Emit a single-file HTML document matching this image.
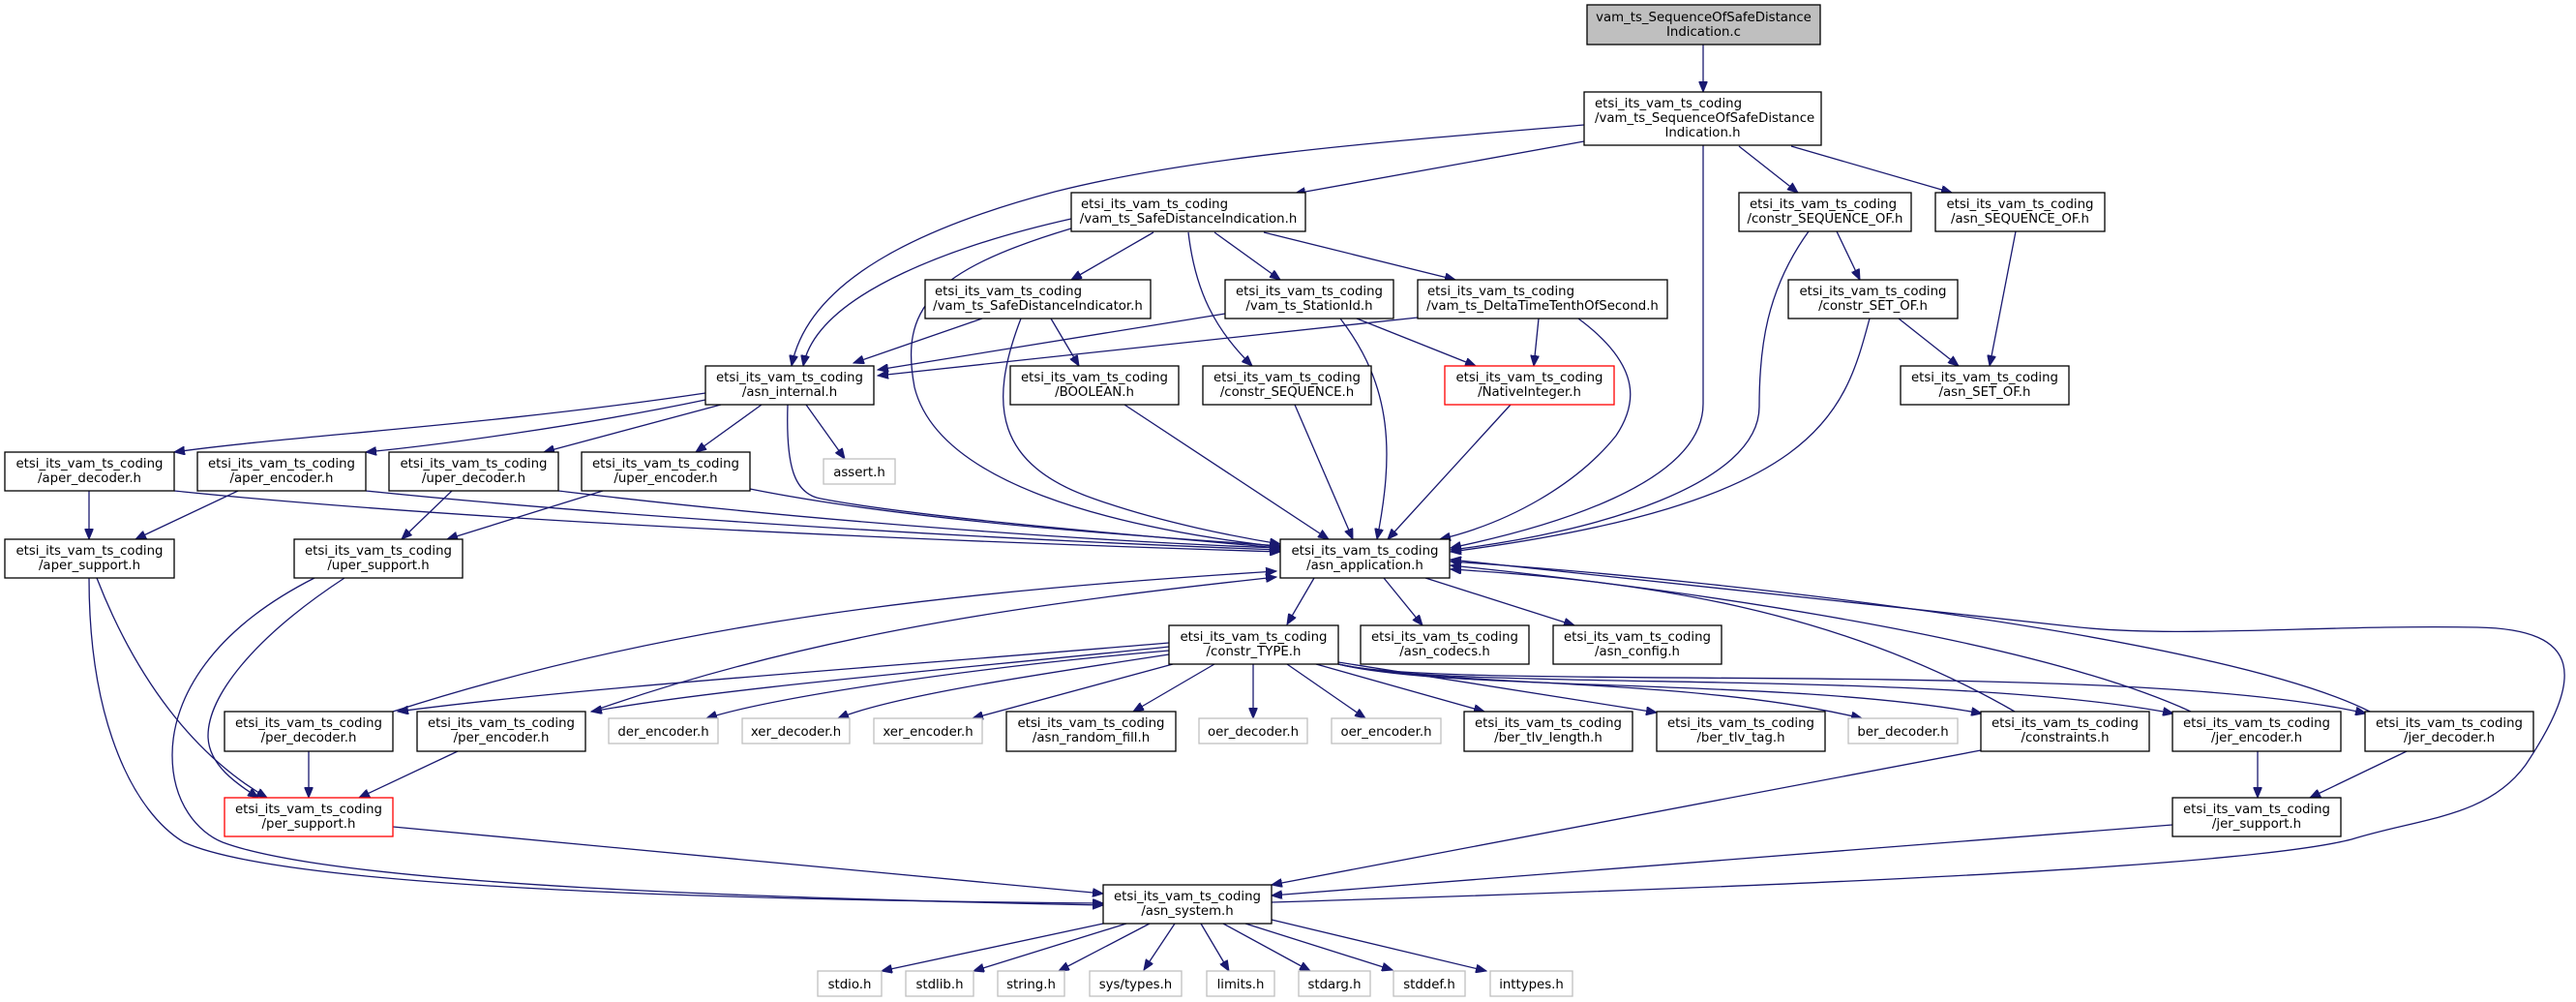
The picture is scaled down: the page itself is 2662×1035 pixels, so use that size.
<!DOCTYPE html>
<html><head><meta charset="utf-8"><style>
html,body{margin:0;padding:0;background:#fff;}
svg{display:block;}
text{font-family:"DejaVu Sans","Liberation Sans",sans-serif;font-size:13.3px;fill:#000;}
.n{fill:#fff;stroke:#000;stroke-width:1.3;}
.g{fill:#fff;stroke:#bfbfbf;stroke-width:1.3;}
.r{fill:#fff;stroke:#ff0000;stroke-width:1.3;}
.m{fill:#bfbfbf;stroke:#000;stroke-width:1.3;}
.e path{fill:none;stroke:#191970;stroke-width:1.3;marker-end:url(#a);}
</style></head><body>
<svg width="2662" height="1035" viewBox="0 0 2662 1035" xmlns="http://www.w3.org/2000/svg">
<defs><marker id="a" markerUnits="userSpaceOnUse" markerWidth="12" markerHeight="9" refX="11" refY="4.5" orient="auto"><path d="M0,0 L11,4.5 L0,9 z" fill="#191970" stroke="#191970"/></marker></defs>
<g class="e">
<path d="M1760,46 L1760,95"/>
<path d="M1637,146 L1338,200"/>
<path d="M1637,129 C1450,145 1240,160 1090,198 C950,235 835,290 818,378"/>
<path d="M1797,151 L1858,199"/>
<path d="M1851,151 L2017,199"/>
<path d="M1760,150 L1760,417 C1760,500 1600,545 1499,566"/>
<path d="M1107,226 C1000,250 845,300 830,378"/>
<path d="M1107,236 C960,280 930,320 945,400 C970,500 1150,545 1323,565"/>
<path d="M1192,240 L1107,289"/>
<path d="M1255,240 L1323,289"/>
<path d="M1228,240 C1235,300 1255,340 1294,378"/>
<path d="M1306,240 L1504,289"/>
<path d="M1015,329 L882,375"/>
<path d="M1086,329 L1115,378"/>
<path d="M1055,329 C1020,420 1030,480 1130,515 C1200,540 1280,555 1323,562"/>
<path d="M1266,324 L907,382"/>
<path d="M1465,328 L907,388"/>
<path d="M1402,329 L1525,378"/>
<path d="M1590,329 L1585,378"/>
<path d="M1385,329 C1440,400 1440,470 1423,557"/>
<path d="M1631,329 C1700,380 1690,420 1670,450 C1630,500 1560,540 1488,557"/>
<path d="M1561,418 L1434,557"/>
<path d="M1338,418 L1398,557"/>
<path d="M1162,418 L1373,557"/>
<path d="M1869,239 C1825,300 1818,360 1818,420 C1818,500 1650,550 1499,568"/>
<path d="M1898,239 L1922,289"/>
<path d="M1962,329 L2024,378"/>
<path d="M2083,239 L2056,378"/>
<path d="M1932,329 C1905,430 1880,520 1499,570"/>
<path d="M729,406 C500,440 300,450 180,467"/>
<path d="M729,413 C600,440 450,460 378,467"/>
<path d="M745,418 L562,467"/>
<path d="M787,418 L719,467"/>
<path d="M833,418 L873,474"/>
<path d="M814,418 C812,480 820,510 848,515 C950,535 1200,555 1323,566"/>
<path d="M92,507 L92,557"/>
<path d="M180,507 C500,540 1000,560 1323,570"/>
<path d="M246,507 L140,557"/>
<path d="M378,507 C700,540 1100,560 1323,568"/>
<path d="M467,507 L415,557"/>
<path d="M577,507 C850,540 1150,560 1323,566"/>
<path d="M623,507 L462,557"/>
<path d="M775,505 C950,540 1200,555 1323,564"/>
<path d="M100,597 C140,700 200,780 276,824"/>
<path d="M92,597 C92,750 140,840 190,870 C300,920 800,930 1140,933"/>
<path d="M356,597 C260,660 215,720 215,760 C215,790 245,810 267,824"/>
<path d="M325,597 C220,650 178,720 178,780 C178,830 205,860 230,870 C350,915 800,928 1140,935"/>
<path d="M319,776 L319,824"/>
<path d="M473,776 L371,824"/>
<path d="M406,735 C700,640 1000,610 1319,590"/>
<path d="M611,735 C850,650 1100,620 1319,596"/>
<path d="M1208,664 C900,690 600,710 411,735"/>
<path d="M1208,668 C1000,690 750,710 611,735"/>
<path d="M1208,672 C1000,690 800,720 730,742"/>
<path d="M1208,676 C1050,700 920,720 866,742"/>
<path d="M1212,686 L1005,742"/>
<path d="M1255,686 L1171,735"/>
<path d="M1295,686 L1295,742"/>
<path d="M1330,686 L1411,742"/>
<path d="M1360,686 L1534,735"/>
<path d="M1383,684 L1712,736"/>
<path d="M1383,686 C1500,710 1750,700 1924,742"/>
<path d="M1383,686 C1500,715 1850,700 2048,737"/>
<path d="M1383,686 C1500,715 2000,690 2246,737"/>
<path d="M1383,686 C1500,715 2200,680 2445,737"/>
<path d="M1358,597 L1330,645"/>
<path d="M1430,597 L1470,646"/>
<path d="M1473,597 L1627,646"/>
<path d="M2082,735 C1900,630 1700,600 1499,588"/>
<path d="M2264,735 C2100,660 1750,610 1499,584"/>
<path d="M2449,735 C2300,660 1800,600 1499,580"/>
<path d="M1314,932 C1700,920 2300,900 2430,867 C2500,845 2570,845 2610,790 C2670,700 2670,650 2560,648 C2400,645 2250,660 2140,647 C1900,620 1600,590 1499,578"/>
<path d="M2047,775 L1314,914"/>
<path d="M2333,776 L2333,824"/>
<path d="M2487,776 L2387,824"/>
<path d="M2245,852 L1314,925"/>
<path d="M406,854 L1140,923"/>
<path d="M1140,954 L911,1003"/>
<path d="M1164,954 L1006,1003"/>
<path d="M1188,954 L1094,1003"/>
<path d="M1214,954 L1182,1002"/>
<path d="M1241,954 L1270,1003"/>
<path d="M1264,954 L1354,1003"/>
<path d="M1287,954 L1439,1002"/>
<path d="M1314,950 L1536,1003"/>
</g>
<g>
<rect class="m" x="1640" y="5" width="241" height="41"/><text x="1760.5" y="22" text-anchor="middle">vam_ts_SequenceOfSafeDistance</text><text x="1760.5" y="37" text-anchor="middle">Indication.c</text>
<rect class="n" x="1637" y="95" width="245" height="55"/><text x="1648" y="111">etsi_its_vam_ts_coding</text><text x="1648" y="126">/vam_ts_SequenceOfSafeDistance</text><text x="1759.5" y="141" text-anchor="middle">Indication.h</text>
<rect class="n" x="1107" y="199" width="242" height="40"/><text x="1117" y="215">etsi_its_vam_ts_coding</text><text x="1228" y="230" text-anchor="middle">/vam_ts_SafeDistanceIndication.h</text>
<rect class="n" x="956" y="289" width="233" height="40"/><text x="966" y="305">etsi_its_vam_ts_coding</text><text x="1072.5" y="320" text-anchor="middle">/vam_ts_SafeDistanceIndicator.h</text>
<rect class="n" x="1266" y="289" width="174" height="40"/><text x="1353" y="305" text-anchor="middle">etsi_its_vam_ts_coding</text><text x="1353" y="320" text-anchor="middle">/vam_ts_StationId.h</text>
<rect class="n" x="1465" y="289" width="258" height="40"/><text x="1475" y="305">etsi_its_vam_ts_coding</text><text x="1594" y="320" text-anchor="middle">/vam_ts_DeltaTimeTenthOfSecond.h</text>
<rect class="n" x="1797" y="199" width="178" height="40"/><text x="1808" y="215">etsi_its_vam_ts_coding</text><text x="1886" y="230" text-anchor="middle">/constr_SEQUENCE_OF.h</text>
<rect class="n" x="2000" y="199" width="175" height="40"/><text x="2087.5" y="215" text-anchor="middle">etsi_its_vam_ts_coding</text><text x="2087.5" y="230" text-anchor="middle">/asn_SEQUENCE_OF.h</text>
<rect class="n" x="729" y="378" width="174" height="40"/><text x="816" y="394" text-anchor="middle">etsi_its_vam_ts_coding</text><text x="816" y="409" text-anchor="middle">/asn_internal.h</text>
<rect class="n" x="1044" y="378" width="174" height="40"/><text x="1131" y="394" text-anchor="middle">etsi_its_vam_ts_coding</text><text x="1131" y="409" text-anchor="middle">/BOOLEAN.h</text>
<rect class="n" x="1243" y="378" width="174" height="40"/><text x="1330" y="394" text-anchor="middle">etsi_its_vam_ts_coding</text><text x="1330" y="409" text-anchor="middle">/constr_SEQUENCE.h</text>
<rect class="r" x="1493" y="378" width="175" height="40"/><text x="1580.5" y="394" text-anchor="middle">etsi_its_vam_ts_coding</text><text x="1580.5" y="409" text-anchor="middle">/NativeInteger.h</text>
<rect class="n" x="1848" y="289" width="175" height="40"/><text x="1935.5" y="305" text-anchor="middle">etsi_its_vam_ts_coding</text><text x="1935.5" y="320" text-anchor="middle">/constr_SET_OF.h</text>
<rect class="n" x="1964" y="378" width="174" height="40"/><text x="2051" y="394" text-anchor="middle">etsi_its_vam_ts_coding</text><text x="2051" y="409" text-anchor="middle">/asn_SET_OF.h</text>
<rect class="n" x="5" y="467" width="175" height="40"/><text x="92.5" y="483" text-anchor="middle">etsi_its_vam_ts_coding</text><text x="92.5" y="498" text-anchor="middle">/aper_decoder.h</text>
<rect class="n" x="204" y="467" width="174" height="40"/><text x="291" y="483" text-anchor="middle">etsi_its_vam_ts_coding</text><text x="291" y="498" text-anchor="middle">/aper_encoder.h</text>
<rect class="n" x="402" y="467" width="175" height="40"/><text x="489.5" y="483" text-anchor="middle">etsi_its_vam_ts_coding</text><text x="489.5" y="498" text-anchor="middle">/uper_decoder.h</text>
<rect class="n" x="601" y="467" width="174" height="40"/><text x="688" y="483" text-anchor="middle">etsi_its_vam_ts_coding</text><text x="688" y="498" text-anchor="middle">/uper_encoder.h</text>
<rect class="g" x="851" y="474" width="74" height="26"/><text x="888" y="492" text-anchor="middle">assert.h</text>
<rect class="n" x="5" y="557" width="175" height="40"/><text x="92.5" y="573" text-anchor="middle">etsi_its_vam_ts_coding</text><text x="92.5" y="588" text-anchor="middle">/aper_support.h</text>
<rect class="n" x="304" y="557" width="174" height="40"/><text x="391" y="573" text-anchor="middle">etsi_its_vam_ts_coding</text><text x="391" y="588" text-anchor="middle">/uper_support.h</text>
<rect class="n" x="1323" y="557" width="175" height="40"/><text x="1410.5" y="573" text-anchor="middle">etsi_its_vam_ts_coding</text><text x="1410.5" y="588" text-anchor="middle">/asn_application.h</text>
<rect class="n" x="1208" y="646" width="175" height="40"/><text x="1295.5" y="662" text-anchor="middle">etsi_its_vam_ts_coding</text><text x="1295.5" y="677" text-anchor="middle">/constr_TYPE.h</text>
<rect class="n" x="1406" y="646" width="174" height="40"/><text x="1493" y="662" text-anchor="middle">etsi_its_vam_ts_coding</text><text x="1493" y="677" text-anchor="middle">/asn_codecs.h</text>
<rect class="n" x="1605" y="646" width="174" height="40"/><text x="1692" y="662" text-anchor="middle">etsi_its_vam_ts_coding</text><text x="1692" y="677" text-anchor="middle">/asn_config.h</text>
<rect class="n" x="232" y="735" width="174" height="41"/><text x="319" y="751" text-anchor="middle">etsi_its_vam_ts_coding</text><text x="319" y="766" text-anchor="middle">/per_decoder.h</text>
<rect class="n" x="431" y="735" width="174" height="41"/><text x="518" y="751" text-anchor="middle">etsi_its_vam_ts_coding</text><text x="518" y="766" text-anchor="middle">/per_encoder.h</text>
<rect class="g" x="629" y="742" width="113" height="26"/><text x="685.5" y="760" text-anchor="middle">der_encoder.h</text>
<rect class="g" x="767" y="742" width="111" height="26"/><text x="822.5" y="760" text-anchor="middle">xer_decoder.h</text>
<rect class="g" x="903" y="742" width="112" height="26"/><text x="959" y="760" text-anchor="middle">xer_encoder.h</text>
<rect class="n" x="1040" y="735" width="175" height="41"/><text x="1127.5" y="751" text-anchor="middle">etsi_its_vam_ts_coding</text><text x="1127.5" y="766" text-anchor="middle">/asn_random_fill.h</text>
<rect class="g" x="1239" y="742" width="112" height="26"/><text x="1295" y="760" text-anchor="middle">oer_decoder.h</text>
<rect class="g" x="1376" y="742" width="113" height="26"/><text x="1432.5" y="760" text-anchor="middle">oer_encoder.h</text>
<rect class="n" x="1513" y="735" width="174" height="41"/><text x="1600" y="751" text-anchor="middle">etsi_its_vam_ts_coding</text><text x="1600" y="766" text-anchor="middle">/ber_tlv_length.h</text>
<rect class="n" x="1712" y="735" width="174" height="41"/><text x="1799" y="751" text-anchor="middle">etsi_its_vam_ts_coding</text><text x="1799" y="766" text-anchor="middle">/ber_tlv_tag.h</text>
<rect class="g" x="1910" y="742" width="113" height="26"/><text x="1966.5" y="760" text-anchor="middle">ber_decoder.h</text>
<rect class="n" x="2047" y="735" width="174" height="41"/><text x="2134" y="751" text-anchor="middle">etsi_its_vam_ts_coding</text><text x="2134" y="766" text-anchor="middle">/constraints.h</text>
<rect class="n" x="2245" y="735" width="174" height="41"/><text x="2332" y="751" text-anchor="middle">etsi_its_vam_ts_coding</text><text x="2332" y="766" text-anchor="middle">/jer_encoder.h</text>
<rect class="n" x="2444" y="735" width="174" height="41"/><text x="2531" y="751" text-anchor="middle">etsi_its_vam_ts_coding</text><text x="2531" y="766" text-anchor="middle">/jer_decoder.h</text>
<rect class="r" x="232" y="824" width="174" height="40"/><text x="319" y="840" text-anchor="middle">etsi_its_vam_ts_coding</text><text x="319" y="855" text-anchor="middle">/per_support.h</text>
<rect class="n" x="2245" y="824" width="174" height="40"/><text x="2332" y="840" text-anchor="middle">etsi_its_vam_ts_coding</text><text x="2332" y="855" text-anchor="middle">/jer_support.h</text>
<rect class="n" x="1140" y="914" width="174" height="40"/><text x="1227" y="930" text-anchor="middle">etsi_its_vam_ts_coding</text><text x="1227" y="945" text-anchor="middle">/asn_system.h</text>
<rect class="g" x="845" y="1003" width="66" height="26"/><text x="878" y="1021" text-anchor="middle">stdio.h</text>
<rect class="g" x="936" y="1003" width="70" height="26"/><text x="971" y="1021" text-anchor="middle">stdlib.h</text>
<rect class="g" x="1031" y="1003" width="69" height="26"/><text x="1065.5" y="1021" text-anchor="middle">string.h</text>
<rect class="g" x="1126" y="1003" width="95" height="26"/><text x="1173.5" y="1021" text-anchor="middle">sys/types.h</text>
<rect class="g" x="1247" y="1003" width="70" height="26"/><text x="1282" y="1021" text-anchor="middle">limits.h</text>
<rect class="g" x="1342" y="1003" width="74" height="26"/><text x="1379" y="1021" text-anchor="middle">stdarg.h</text>
<rect class="g" x="1440" y="1003" width="74" height="26"/><text x="1477" y="1021" text-anchor="middle">stddef.h</text>
<rect class="g" x="1540" y="1003" width="85" height="26"/><text x="1582.5" y="1021" text-anchor="middle">inttypes.h</text>
</g>
</svg>
</body></html>
